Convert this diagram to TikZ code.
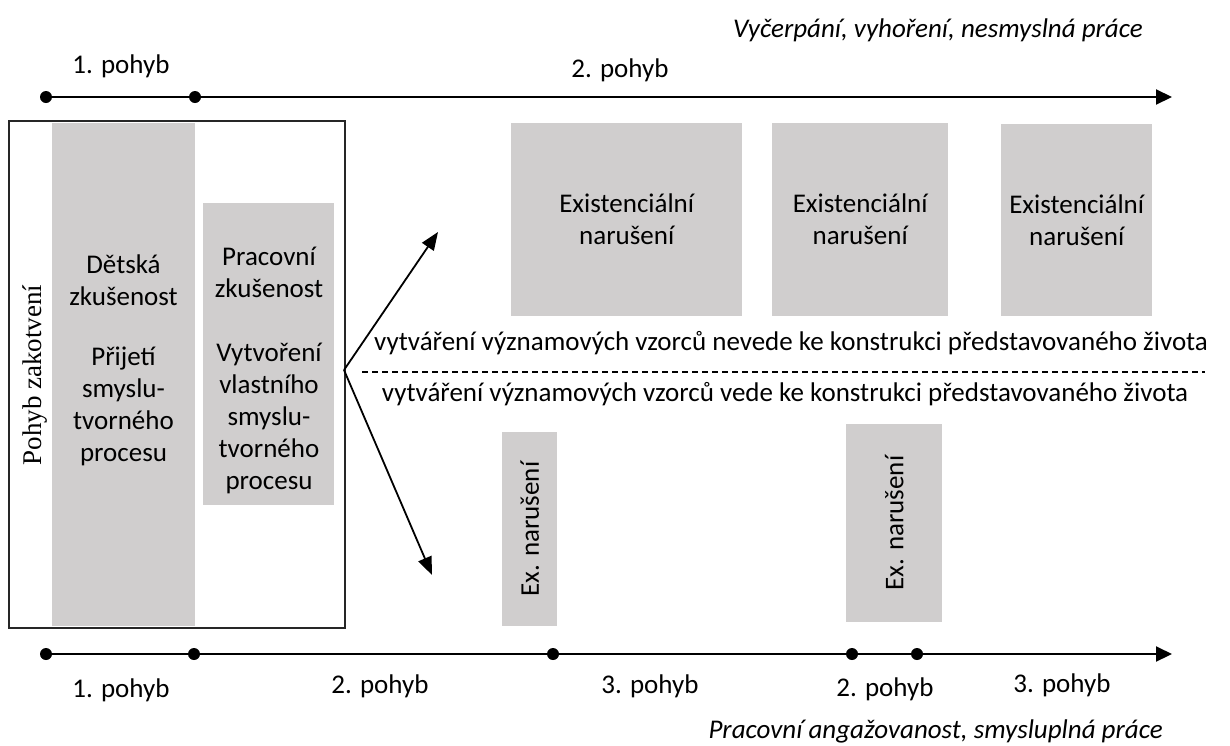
\documentclass[tikz,border=0pt]{standalone}
\usepackage{fontspec}
\setmainfont{Carlito}
\newfontfamily\serifface{Liberation Serif}
\usetikzlibrary{arrows.meta}
\definecolor{boxgray}{HTML}{D0CECE}
\begin{document}
\begin{tikzpicture}[x=1pt,y=-1pt,
  txt/.style={inner sep=0pt,align=center,font=\fontsize{27}{32}\selectfont},
  itxt/.style={inner sep=0pt,font=\fontsize{27}{32}\selectfont\itshape},
  gbox/.style={fill=boxgray,draw=none,inner sep=0pt},
  dot/.style={circle,fill=black,inner sep=0pt,minimum size=12pt},
  axis/.style={line width=2pt,-{Triangle[length=16pt,width=15pt]}},
  branch/.style={line width=1.8pt,-{Triangle[length=18pt,width=14pt]}},
  frame/.style={draw=black!85,line width=2pt}]
\useasboundingbox (0,0) rectangle (1230,745);

% top time axis
\node[dot] (ta) at (46,97) {};
\node[dot] (tb) at (195,97) {};
\coordinate (tend) at (1172,97);
\draw[axis] (ta) -- (tb) -- (tend);
\node[txt] (tl1) at (121,66) {1. pohyb};
\node[txt] (tl2) at (620,70) {2. pohyb};
\node[itxt,anchor=east] (ttop) at (1143,30) {Vyčerpání, vyhoření, nesmyslná práce};

% grounding movement frame
\draw[frame] (9,121) rectangle (345,628);
\node[gbox,anchor=north west,minimum width=143pt,minimum height=503pt] (g1) at (52,123) {};
\node[gbox,anchor=north west,minimum width=131pt,minimum height=302pt] (g2) at (203,203) {};
\node[txt] (g1t) at (123.5,360) {Dětská\\zkušenost\\[28pt]Přijetí\\smyslu-\\tvorného\\procesu};
\node[txt] (g2t) at (269,370) {Pracovní\\zkušenost\\[32pt]Vytvoření\\vlastního\\smyslu-\\tvorného\\procesu};
\node[inner sep=0pt,rotate=90,font=\fontsize{27}{30}\selectfont\serifface] (pz) at (35,375) {Pohyb zakotvení};

% branching
\coordinate (fork) at (344,370);
\coordinate (up) at (438,232);
\coordinate (down) at (432,575);
\draw[branch] (fork) -- (up);
\draw[branch] (fork) -- (down);

% existential disruptions above
\node[gbox,anchor=north west,minimum width=231pt,minimum height=193pt] (e1) at (511,123) {};
\node[gbox,anchor=north west,minimum width=176pt,minimum height=193pt] (e2) at (772,123) {};
\node[gbox,anchor=north west,minimum width=151pt,minimum height=192pt] (e3) at (1001,124) {};
\node[txt] at (e1.center) {Existenciální\\narušení};
\node[txt] at (e2.center) {Existenciální\\narušení};
\node[txt] at (e3.center) {Existenciální\\narušení};

% dividing line between the two outcomes
\node[txt] (nevede) at (791,343) {vytváření významových vzorců nevede ke konstrukci představovaného života};
\coordinate (dl) at (362,372);
\coordinate (dr) at (1205,372);
\draw[line width=1.3pt,dash pattern=on 6pt off 4pt] (dl) -- (dr);
\node[txt] (vede) at (785,394) {vytváření významových vzorců vede ke konstrukci představovaného života};

% existential disruptions below
\node[gbox,anchor=north west,minimum width=55pt,minimum height=194pt] (x1) at (502,432) {};
\node[gbox,anchor=north west,minimum width=96pt,minimum height=198pt] (x2) at (846,424) {};
\node[txt,rotate=90] at (x1.center) {Ex. narušení};
\node[txt,rotate=90] at (x2.center) {Ex. narušení};

% bottom time axis
\node[dot] (ba) at (46,654) {};
\node[dot] (bb) at (194,654) {};
\node[dot] (bc) at (553,654) {};
\node[dot] (bd) at (852,654) {};
\node[dot] (be) at (917,654) {};
\coordinate (bend) at (1172,654);
\draw[axis] (ba) -- (bb) -- (bc) -- (bd) -- (be) -- (bend);
\node[txt] (bl1) at (121,690) {1. pohyb};
\node[txt] (bl2) at (380,686) {2. pohyb};
\node[txt] (bl3) at (650,686) {3. pohyb};
\node[txt] (bl4) at (885,689) {2. pohyb};
\node[txt] (bl5) at (1062,685) {3. pohyb};
\node[itxt,anchor=east] (bbot) at (1163,731) {Pracovní angažovanost, smysluplná práce};
\end{tikzpicture}
\end{document}
